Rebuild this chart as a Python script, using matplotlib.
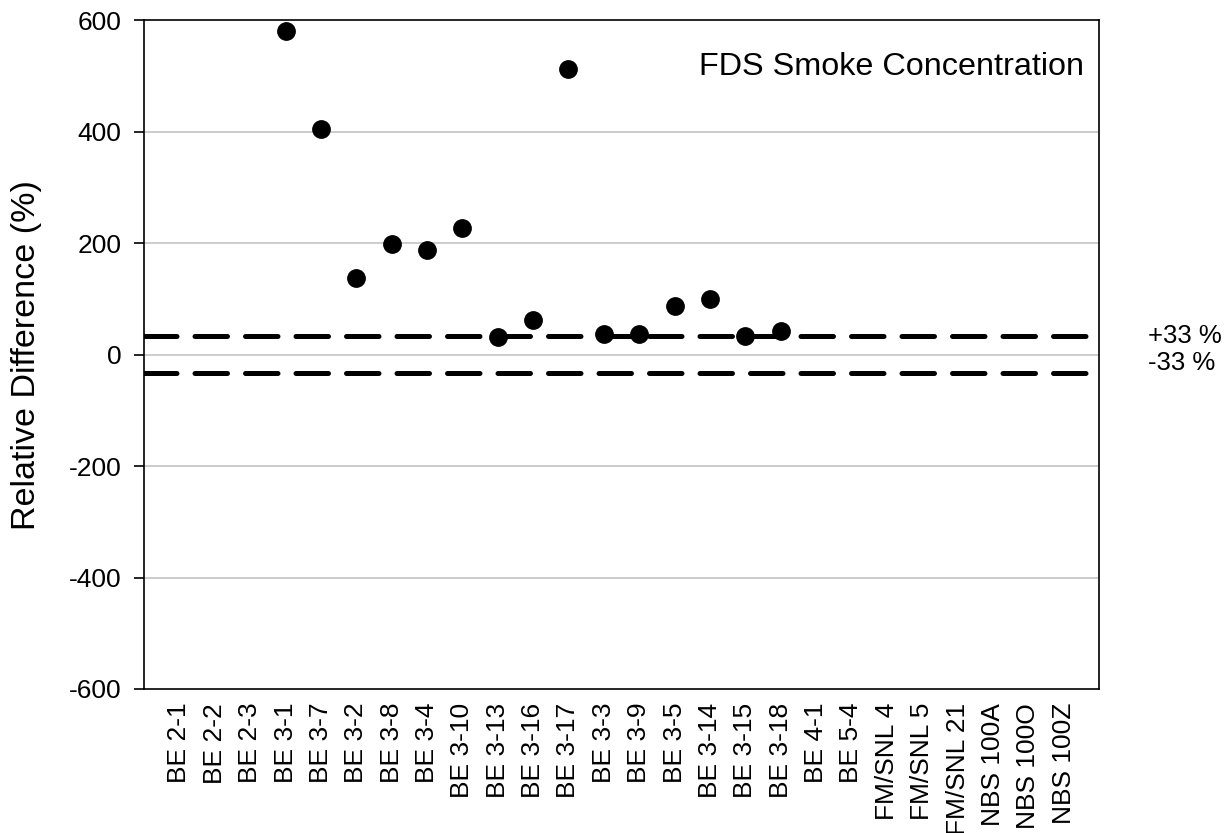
import matplotlib.pyplot as plt
import numpy as np

plt.rcParams['font.family'] = ['Liberation Sans', 'DejaVu Sans']

# experiment names along the x axis
tests = ['BE 2-1', 'BE 2-2', 'BE 2-3', 'BE 3-1', 'BE 3-7', 'BE 3-2', 'BE 3-8',
         'BE 3-4', 'BE 3-10', 'BE 3-13', 'BE 3-16', 'BE 3-17', 'BE 3-3',
         'BE 3-9', 'BE 3-5', 'BE 3-14', 'BE 3-15', 'BE 3-18', 'BE 4-1',
         'BE 5-4', 'FM/SNL 4', 'FM/SNL 5', 'FM/SNL 21', 'NBS 100A',
         'NBS 100O', 'NBS 100Z']

# relative difference (%), nan where no data
rel_diff = [np.nan, np.nan, np.nan, 582, 406, 137, 198, 188, 227, 31, 62,
            513, 37, 37, 87, 100, 33, 42, np.nan, np.nan, np.nan, np.nan,
            np.nan, np.nan, np.nan, np.nan]

bounds = [33, -33]
bound_labels = ['+33 %', '-33 %']
bound_label_y = [33, -14]

yticks = [-600, -400, -200, 0, 200, 400, 600]

fig = plt.figure(figsize=(12.27, 8.33), dpi=100)
ax = fig.add_axes([0.1174, 0.1729, 0.7783, 0.8025])

x = np.arange(len(tests))
ax.set_xlim(-1, len(tests))
ax.set_ylim(-600, 600)

for y in [-400, -200, 0, 200, 400]:
    ax.axhline(y, color='#c8c8c8', lw=1.3, zorder=0)

for b in bounds:
    ax.axhline(b, color='black', lw=3.6, dashes=(6.5, 3.6),
               dash_capstyle='round', zorder=2)

ax.plot(x, rel_diff, 'o', color='black', markersize=12.5, zorder=3)

for lab, yy in zip(bound_labels, bound_label_y):
    ax.text(1.051, yy, lab, transform=ax.get_yaxis_transform(),
            fontsize=18.5, va='center', ha='left', clip_on=False)

ax.text(0.984, 0.953, 'FDS Smoke Concentration', transform=ax.transAxes,
        fontsize=23.3, ha='right', va='top')

ax.set_xticks(x)
ax.set_xticklabels(tests, rotation=90, fontsize=19, va='top')
ax.tick_params(axis='x', length=0, pad=10)
ax.set_yticks(yticks)
ax.set_yticklabels([str(t) for t in yticks], fontsize=19)
ax.tick_params(axis='y', length=7.2, width=1.2, direction='out', pad=9)
ax.set_ylabel('Relative Difference (%)', fontsize=24.5)
ax.yaxis.set_label_coords(-0.107, 0.5)

for s in ax.spines.values():
    s.set_linewidth(1.2)

fig.savefig('out.png', dpi=100)
